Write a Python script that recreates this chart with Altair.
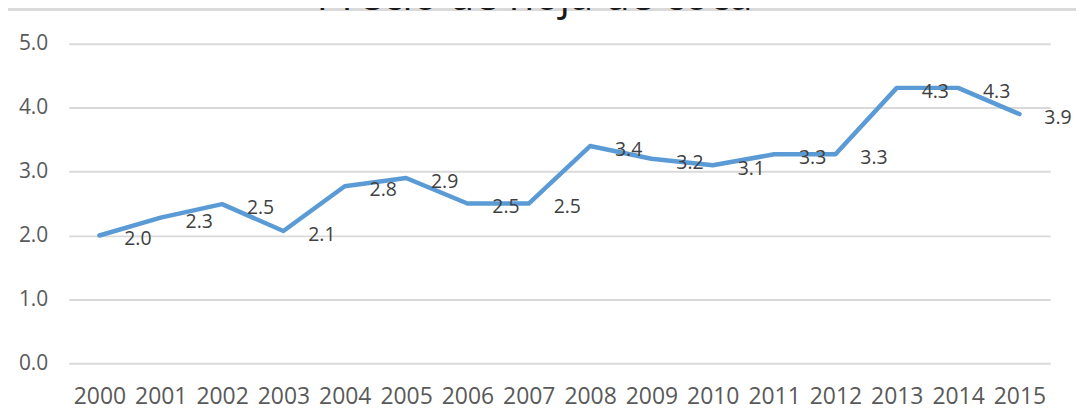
import altair as alt
import pandas as pd

years = [str(y) for y in range(2000, 2016)]
prices = [2.0, 2.28, 2.49, 2.07, 2.77, 2.9, 2.5, 2.5, 3.4, 3.2, 3.1, 3.27, 3.27, 4.31, 4.31, 3.9]
y_ticks = [0, 1, 2, 3, 4, 5]
title_text = ["Precio de hoja de coca"]

df = pd.DataFrame({"year": years, "price": prices})
title_df = pd.DataFrame({"t": title_text})

W, H = 986, 321
PAD_L, PAD_T, PAD_R, PAD_B = 61, 35, 26, 46

x_enc = alt.X(
    "year:O",
    sort=years,
    title=None,
    scale=alt.Scale(padding=0.5),
    axis=alt.Axis(
        labelAngle=0, domain=False, ticks=False, tickSize=0, grid=False,
        labelFont="Open Sans", labelFontSize=23, labelColor="#595959",
        labelPadding=22,
    ),
)
y_enc = alt.Y(
    "price:Q",
    title=None,
    scale=alt.Scale(domain=[0, 5], nice=False, zero=True),
    axis=alt.Axis(
        values=y_ticks, format=".1f", domain=False, ticks=False, tickSize=0,
        grid=True, gridColor="#d9d9d9", gridWidth=2,
        labelFont="Open Sans", labelFontSize=21, labelColor="#595959",
        labelPadding=21,
    ),
)

base = alt.Chart(df)

line = base.mark_line(color="#5b9bd5", strokeWidth=4.5, strokeJoin="round", strokeCap="round").encode(
    x=x_enc, y=y_enc
)

labels = base.mark_text(
    align="left", baseline="middle", dx=25, dy=4,
    font="Open Sans", fontSize=19.5, color="#404040",
).encode(
    x=alt.X("year:O", sort=years),
    y=alt.Y("price:Q"),
    text=alt.Text("price:Q", format=".1f"),
)

border_top = base.mark_rule(color="#d9d9d9", strokeWidth=2).encode(
    x=alt.value(-PAD_L - 8), x2=alt.value(W + PAD_R + 12), y=alt.value(-34.5)
)
border_left = base.mark_rule(color="#e3e3e3", strokeWidth=2).encode(
    x=alt.value(-PAD_L - 7.5), y=alt.value(-34.5), y2=alt.value(H + PAD_B + 12)
)

title = alt.Chart(title_df).mark_text(
    align="center", baseline="alphabetic", font="Open Sans", fontSize=42,
    color="#1a1a1a",
).encode(
    text="t:N", x=alt.value(W / 2 - 25), y=alt.value(-34)
)

chart = alt.layer(border_top, border_left, title, line, labels).properties(
    width=W,
    height=H,
    background="white",
    autosize=alt.AutoSizeParams(type="none"),
    padding={"left": PAD_L, "top": PAD_T, "right": PAD_R, "bottom": PAD_B},
).configure_view(stroke=None, strokeWidth=0)

chart.save("out.html", embed_options={"renderer": "svg", "actions": False})
